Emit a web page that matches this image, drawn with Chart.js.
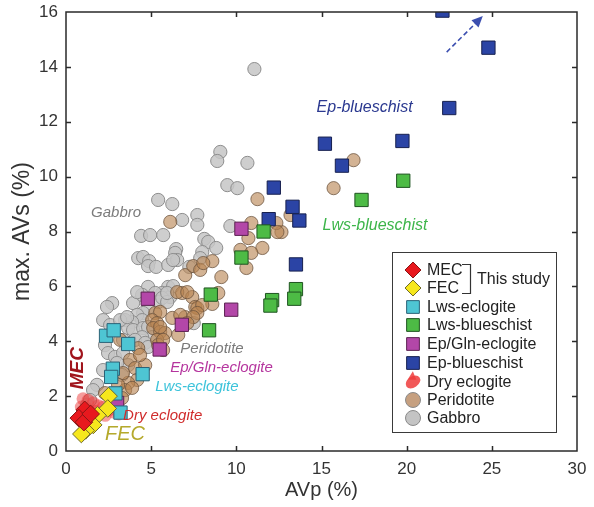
<!DOCTYPE html>
<html><head><meta charset="utf-8">
<script src="https://cdn.jsdelivr.net/npm/chart.js@4.4.1/dist/chart.umd.min.js"></script>
<style>html,body{margin:0;padding:0;background:#fff;}canvas{display:block;}</style>
</head><body>
<canvas id="c" width="594" height="507"></canvas>
<script>
// AVp (%) vs max. AVs (%) for each rock group, as [AVp, AVs] pairs
const mec = [[1.1,1.5],[0.75,1.2],[1.05,1.05],[1.45,1.35]];
const fec = [[2.5,2.0],[2.45,1.55],[1.85,1.3],[1.6,0.95],[1.15,0.75],[0.9,0.62]];
const lwsEclogite = [[2.35,4.2],[2.8,4.4],[3.65,3.9],[2.75,3.0],[2.65,2.7],[4.5,2.8],[2.9,2.1],[3.2,1.4]];
const lwsBlueschist = [[19.8,9.85],[17.35,9.15],[11.6,8.0],[10.3,7.05],[13.5,5.9],[13.4,5.55],[12.1,5.5],[12.0,5.3],[8.5,5.7],[8.4,4.4]];
const epGlnEclogite = [[10.3,8.1],[9.7,5.15],[4.8,5.55],[6.8,4.6],[5.5,3.7],[3.0,1.75]];
const epBlueschist = [[22.1,16.05],[24.8,14.7],[22.5,12.5],[19.75,11.3],[15.2,11.2],[16.2,10.4],[12.2,9.6],[13.3,8.9],[13.7,8.4],[11.9,8.45],[13.5,6.8]];
const dryEclogite = [[1.0,1.9],[1.3,1.85],[1.6,1.75],[1.9,1.65],[2.2,1.6],[2.5,1.5],[2.8,1.42],[3.1,1.35],[1.2,1.55],[1.7,1.45],[2.3,1.3],[0.9,1.6]];
const peridotite = [
  [16.88,10.6],[15.71,9.58],[13.18,8.6],[12.65,7.98],[11.24,9.18],[10.88,8.31],[12.35,8.31],[12.41,7.98],
  [10.71,7.76],[11.53,7.4],[10.24,7.33],[10.88,7.22],[10.59,6.67],[8.59,6.92],[9.12,6.34],[8.94,5.76],
  [8.59,5.36],[7.0,6.41],[7.47,6.74],[7.88,6.6],[6.82,5.76],[7.41,5.61],[7.59,5.25],[7.0,4.88],
  [7.71,5.21],[8.0,5.32],[6.12,8.35],[6.53,5.79],[7.12,5.79],[8.06,6.85],[7.71,5.03],[7.47,4.88],
  [5.24,5.03],[5.53,5.07],[5.06,4.77],[5.35,4.66],[5.12,4.48],[5.53,4.34],[5.82,4.3],[5.35,4.05],
  [6.59,4.23],[6.24,4.85],[6.71,4.96],[7.12,4.66],[4.24,3.75],[3.18,4.05],[5.41,3.86],[3.76,3.32],
  [4.06,3.02],[4.18,2.59],[3.65,2.48],[3.47,2.22],[3.29,1.93],[3.88,2.3],[3.35,2.84],[2.29,2.11],
  [5.7,4.05],[5.53,4.52],[5.7,3.68],[4.65,3.13],[3.06,2.41],[4.35,3.5]
];
const gabbro = [
  [11.06,13.92],[9.06,10.9],[8.88,10.57],[10.65,10.5],[9.47,9.69],[10.06,9.58],[5.41,9.15],[6.24,9.0],
  [6.82,8.42],[7.71,8.6],[7.71,8.24],[9.65,8.2],[4.41,7.84],[4.94,7.87],[5.71,7.87],[8.12,7.73],
  [8.35,7.62],[8.82,7.4],[6.47,7.36],[6.41,7.22],[8.0,7.25],[7.88,7.03],[4.24,7.03],[4.53,7.07],
  [4.88,6.92],[4.82,6.74],[5.29,6.71],[6.0,6.78],[7.24,6.71],[6.53,6.96],[4.82,5.98],[6.0,5.98],
  [5.65,5.76],[6.12,5.61],[2.71,5.39],[2.41,5.25],[3.94,5.39],[4.47,5.69],[5.24,5.76],[5.41,5.43],
  [5.65,5.58],[5.94,5.43],[4.82,5.21],[4.53,5.03],[4.18,4.96],[4.47,4.77],[3.88,4.7],[3.47,4.77],
  [3.65,4.48],[3.94,4.41],[4.53,4.48],[4.82,4.52],[5.06,4.15],[4.47,4.15],[4.06,4.05],[4.65,3.94],
  [3.35,4.05],[4.82,3.79],[2.18,4.77],[2.59,4.59],[3.18,4.77],[3.59,4.88],[2.29,3.86],[2.47,3.57],
  [2.88,3.43],[3.35,3.57],[3.65,3.13],[3.0,3.21],[3.29,2.77],[2.18,2.95],[1.82,2.41],[1.59,2.22],
  [1.24,1.68],[1.41,1.86],[6.29,6.96],[6.29,6.01],[5.94,5.76],[4.18,5.79],[7.5,4.66]
];

// axis ranges and tick spacing
const xTicks = [0, 5, 10, 15, 20, 25, 30];
const yTicks = [0, 2, 4, 6, 8, 10, 12, 14, 16];

const pts = a => a.map(p => ({x: p[0], y: p[1]}));

// group styles
const S = {
  mec:  {fill: '#e8191e', line: '#8a1515', shape: 'rectRot', r: 8.8},
  fec:  {fill: '#f6e71c', line: '#6f6a2a', shape: 'rectRot', r: 8.8},
  lwsE: {fill: '#4ec5d3', line: '#2b6277', shape: 'rect', r: 9.4},
  lwsB: {fill: '#4dbb45', line: '#1f5420', shape: 'rect', r: 9.4},
  epG:  {fill: '#b347a8', line: '#5a2150', shape: 'rect', r: 9.4},
  epB:  {fill: '#2b44a5', line: '#17204f', shape: 'rect', r: 9.4},
  dry:  {fill: 'rgba(238,58,58,0.5)', line: 'rgba(0,0,0,0)', shape: 'circle', r: 6.5},
  per:  {fill: 'rgba(184,132,82,0.62)', line: 'rgba(105,82,60,0.75)', shape: 'circle', r: 6.6},
  gab:  {fill: 'rgba(198,198,198,0.85)', line: '#8d8d8d', shape: 'circle', r: 6.6}
};

function ds(label, data, s) {
  return {
    label, data: pts(data), pointStyle: s.shape, pointRadius: s.r, pointHoverRadius: s.r,
    backgroundColor: s.fill, borderColor: s.line, pointBorderWidth: 1, showLine: false
  };
}

// first dataset is drawn on top
const datasets = [
  ds('MEC', mec, S.mec),
  ds('FEC', fec, S.fec),
  ds('Lws-eclogite', lwsEclogite, S.lwsE),
  ds('Lws-blueschist', lwsBlueschist, S.lwsB),
  ds('Ep/Gln-eclogite', epGlnEclogite, S.epG),
  ds('Ep-blueschist', epBlueschist, S.epB),
  ds('Dry eclogite', dryEclogite, S.dry),
  ds('Peridotite', peridotite, S.per),
  ds('Gabbro', gabbro, S.gab)
];

// in-plot field names, placed at data coordinates
const fieldLabels = [
  {text: 'Gabbro', x: 1.47, y: 8.67, color: '#7c7c7c', size: 15},
  {text: 'Ep-blueschist', x: 14.71, y: 12.5, color: '#2b3990', size: 16},
  {text: 'Lws-blueschist', x: 15.06, y: 8.2, color: '#3db54a', size: 16},
  {text: 'Peridotite', x: 6.71, y: 3.72, color: '#7a7a7a', size: 15},
  {text: 'Ep/Gln-eclogite', x: 6.12, y: 3.02, color: '#b5359e', size: 15},
  {text: 'Lws-eclogite', x: 5.24, y: 2.33, color: '#3cc3da', size: 15},
  {text: 'Dry eclogite', x: 3.35, y: 1.28, color: '#d02c2c', size: 15},
  {text: 'FEC', x: 2.29, y: 0.62, color: '#b5a92c', size: 20}
];

const FONT = '"Liberation Sans", Arial, sans-serif';

function drawMarker(ctx, shape, x, y, r, fill, line) {
  ctx.save();
  ctx.fillStyle = fill; ctx.strokeStyle = line; ctx.lineWidth = 1;
  ctx.beginPath();
  if (shape === 'rect') { const h = r * Math.SQRT1_2; ctx.rect(x - h, y - h, 2 * h, 2 * h); }
  else if (shape === 'rectRot') { ctx.moveTo(x - r, y); ctx.lineTo(x, y - r); ctx.lineTo(x + r, y); ctx.lineTo(x, y + r); ctx.closePath(); }
  else { ctx.arc(x, y, r, 0, Math.PI * 2); }
  ctx.fill(); ctx.stroke();
  ctx.restore();
}

const framePlugin = {
  id: 'frame',
  afterDatasetsDraw(chart) {
    const {ctx, chartArea: a, scales: {x, y}} = chart;
    ctx.save();
    // field names
    ctx.textBaseline = 'middle';
    ctx.textAlign = 'left';
    fieldLabels.forEach(l => {
      ctx.font = `italic ${l.size}px ${FONT}`;
      ctx.fillStyle = l.color;
      ctx.fillText(l.text, x.getPixelForValue(l.x), y.getPixelForValue(l.y));
    });
    // rotated MEC label
    ctx.save();
    ctx.translate(x.getPixelForValue(0.71), y.getPixelForValue(3.02));
    ctx.rotate(-Math.PI / 2);
    ctx.textAlign = 'center';
    ctx.font = `italic bold 19px ${FONT}`;
    ctx.fillStyle = '#a0141c';
    ctx.fillText('MEC', 0, 0);
    ctx.restore();

    // dashed arrow toward higher anisotropy
    const x0 = x.getPixelForValue(22.35), y0 = y.getPixelForValue(14.54);
    const x1 = x.getPixelForValue(24.47), y1 = y.getPixelForValue(15.85);
    const ang = Math.atan2(y1 - y0, x1 - x0);
    ctx.strokeStyle = '#3c4fb0'; ctx.fillStyle = '#3c4fb0'; ctx.lineWidth = 1.6;
    ctx.setLineDash([5, 3]);
    ctx.beginPath(); ctx.moveTo(x0, y0);
    ctx.lineTo(x1 - 9 * Math.cos(ang), y1 - 9 * Math.sin(ang)); ctx.stroke();
    ctx.setLineDash([]);
    ctx.beginPath();
    ctx.moveTo(x1, y1);
    ctx.lineTo(x1 - 11 * Math.cos(ang) + 5 * Math.sin(ang), y1 - 11 * Math.sin(ang) - 5 * Math.cos(ang));
    ctx.lineTo(x1 - 11 * Math.cos(ang) - 5 * Math.sin(ang), y1 - 11 * Math.sin(ang) + 5 * Math.cos(ang));
    ctx.closePath(); ctx.fill();

    // frame with inward ticks on all four sides
    ctx.strokeStyle = '#2a2a2a'; ctx.lineWidth = 1.5;
    ctx.strokeRect(a.left, a.top, a.right - a.left, a.bottom - a.top);
    ctx.beginPath();
    xTicks.slice(1, -1).forEach(v => {
      const px = Math.round(x.getPixelForValue(v)) + 0.5;
      ctx.moveTo(px, a.bottom); ctx.lineTo(px, a.bottom - 5);
      ctx.moveTo(px, a.top); ctx.lineTo(px, a.top + 5);
    });
    yTicks.slice(1, -1).forEach(v => {
      const py = Math.round(y.getPixelForValue(v)) + 0.5;
      ctx.moveTo(a.left, py); ctx.lineTo(a.left + 5, py);
      ctx.moveTo(a.right, py); ctx.lineTo(a.right - 5, py);
    });
    ctx.stroke();

    // legend box
    const bx = 392, by = 252, bw = 164, bh = 180;
    ctx.fillStyle = '#fff'; ctx.fillRect(bx, by, bw, bh);
    ctx.strokeStyle = '#3a3a3a'; ctx.lineWidth = 1; ctx.strokeRect(bx + 0.5, by + 0.5, bw, bh);
    const rows = [
      ['MEC', S.mec, 270], ['FEC', S.fec, 288], ['Lws-eclogite', S.lwsE, 307],
      ['Lws-blueschist', S.lwsB, 325], ['Ep/Gln-eclogite', S.epG, 344], ['Ep-blueschist', S.epB, 363],
      ['Dry eclogite', S.dry, 382], ['Peridotite', S.per, 400], ['Gabbro', S.gab, 418]
    ];
    ctx.font = `16px ${FONT}`; ctx.textBaseline = 'middle'; ctx.textAlign = 'left';
    rows.forEach(([t, s, ry]) => {
      const mx = 413;
      if (s === S.dry) {
        ctx.save();
        ctx.translate(mx, ry); ctx.rotate(-0.6);
        ctx.fillStyle = 'rgba(238,60,60,0.85)';
        ctx.beginPath(); ctx.ellipse(0, 0, 8, 5.5, 0, 0, Math.PI * 2); ctx.fill();
        ctx.beginPath(); ctx.moveTo(-3, -5); ctx.lineTo(6, -9); ctx.lineTo(4, 0); ctx.closePath(); ctx.fill();
        ctx.restore();
      } else if (s.shape === 'circle') {
        drawMarker(ctx, 'circle', mx, ry, 7.5, s === S.per ? '#c6a080' : '#c4c4c4', '#8a8a8a');
      } else if (s.shape === 'rect') {
        drawMarker(ctx, 'rect', mx, ry, 9, s.fill, s.line);
      } else {
        drawMarker(ctx, 'rectRot', mx, ry, 8, s.fill, s.line);
      }
      ctx.fillStyle = '#222';
      ctx.fillText(t, 427, ry + 1);
    });
    // bracket grouping the two study samples
    ctx.strokeStyle = '#333'; ctx.lineWidth = 1.2;
    ctx.beginPath();
    ctx.moveTo(462, 264.5); ctx.lineTo(470.5, 264.5); ctx.lineTo(470.5, 293.5); ctx.lineTo(462, 293.5);
    ctx.stroke();
    ctx.fillStyle = '#222';
    ctx.fillText('This study', 477, 280);
    ctx.restore();
  }
};

new Chart(document.getElementById('c'), {
  type: 'scatter',
  data: {datasets},
  plugins: [framePlugin],
  options: {
    responsive: false, animation: false, devicePixelRatio: 1,
    layout: {padding: {left: 0, top: 12, right: 17, bottom: 0}},
    plugins: {legend: {display: false}, tooltip: {enabled: false}},
    scales: {
      x: {
        type: 'linear', min: 0, max: 30,
        afterBuildTicks: s => { s.ticks = xTicks.map(v => ({value: v})); },
        afterFit: s => { s.height = 56; s.paddingLeft = 0; s.paddingRight = 0; },
        grid: {display: false, drawTicks: false}, border: {display: false},
        ticks: {font: {size: 17, family: FONT}, color: '#333', padding: 8},
        title: {display: true, text: 'AVp (%)', font: {size: 20, family: FONT}, color: '#333', padding: {top: 0, bottom: 5}}
      },
      y: {
        type: 'linear', min: 0, max: 16,
        afterBuildTicks: s => { s.ticks = yTicks.map(v => ({value: v})); },
        afterFit: s => { s.width = 66; s.paddingTop = 0; s.paddingBottom = 0; },
        grid: {display: false, drawTicks: false}, border: {display: false},
        ticks: {font: {size: 17, family: FONT}, color: '#333', padding: 8},
        title: {display: true, text: 'max. AVs (%)', font: {size: 23, family: FONT}, color: '#333', padding: {top: 9, bottom: 0}}
      }
    }
  }
});
</script></body></html>
